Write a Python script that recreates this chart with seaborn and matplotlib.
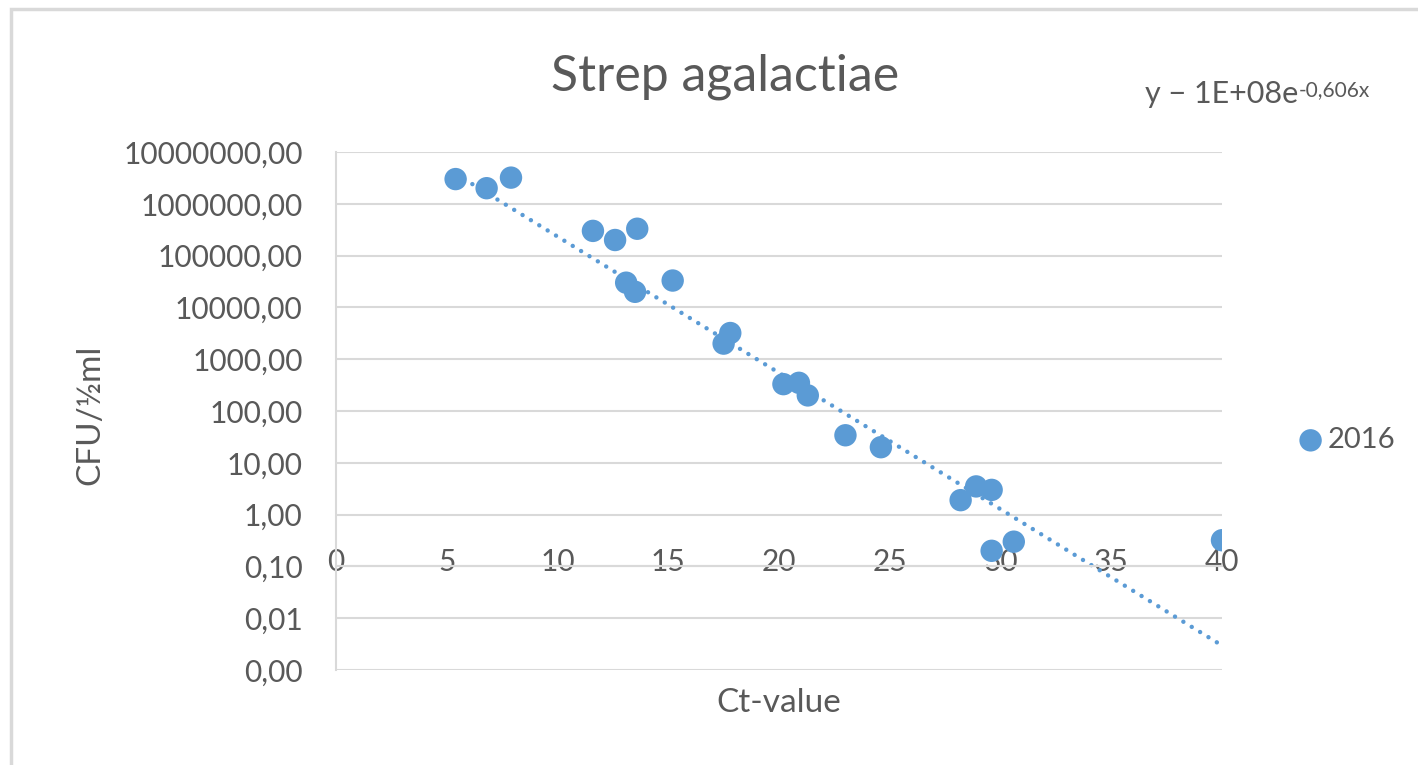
import numpy as np
import matplotlib
matplotlib.use('Agg')
import matplotlib.pyplot as plt
import seaborn as sns
from matplotlib.patches import Rectangle
from matplotlib.ticker import FuncFormatter, NullLocator

# values
ct_value = [5.4, 6.8, 7.9, 11.6, 12.6, 13.6, 13.1, 13.5, 15.2, 17.8, 17.5,
            20.2, 20.9, 21.3, 23.0, 24.6, 28.2, 28.9, 29.6, 29.6, 30.6, 40.0]
cfu = [3.0e6, 2.0e6, 3.2e6, 3.0e5, 2.0e5, 3.3e5, 3.0e4, 2.0e4, 3.3e4, 3.2e3, 2.0e3,
       330, 350, 200, 34, 20, 1.9, 3.5, 3.0, 0.2, 0.3, 0.32]
series = '2016'
trend_a = 1e8
trend_b = -0.606
x_ticks = [0, 5, 10, 15, 20, 25, 30, 35, 40]
y_ticks = [0.001, 0.01, 0.1, 1, 10, 100, 1e3, 1e4, 1e5, 1e6, 1e7]

grey = '#595959'
grid = '#D9D9D9'
blue = '#5B9BD5'

sns.set_theme(style='white')
plt.rcParams['font.family'] = ['Lato', 'DejaVu Sans']

fig = plt.figure(figsize=(14.18, 7.65), dpi=100)
ax = fig.add_axes([336 / 1418, 1 - 670 / 765, (1222 - 336) / 1418, (670 - 152) / 765])

sns.scatterplot(x=ct_value, y=cfu, ax=ax, s=260, color=blue, edgecolor='none',
                label=series, zorder=3)

# exponential trendline from the equation shown on the chart
xs = np.linspace(min(ct_value), max(ct_value), 300)
ax.plot(xs, trend_a * np.exp(trend_b * xs), color=blue, lw=3.2,
        linestyle=(0, (0.01, 2.2)), dash_capstyle='round', zorder=2)

ax.set_yscale('log')
ax.set_xlim(0, 40)
ax.set_ylim(1e-3, 1e7)
ax.set_xticks(x_ticks)
ax.set_yticks(y_ticks)
ax.yaxis.set_minor_locator(NullLocator())
ax.yaxis.set_major_formatter(FuncFormatter(lambda v, p: f'{v:.2f}'.replace('.', ',')))
ax.set_xlabel('')
ax.set_ylabel('')

ax.grid(axis='y', color=grid, lw=1.5)
ax.grid(axis='x', visible=False)
for s in ['top', 'right']:
    ax.spines[s].set_visible(False)
ax.spines['left'].set_color(grid)
ax.spines['left'].set_linewidth(1.5)
ax.spines['bottom'].set_position(('data', 0.1))
ax.spines['bottom'].set_color(grid)
ax.spines['bottom'].set_linewidth(1.5)
ax.tick_params(axis='y', length=0, pad=24, labelsize=21.5, labelcolor=grey)
ax.tick_params(axis='x', length=0, pad=-13, labelsize=21.5, labelcolor=grey)

ax.legend(loc='center left', bbox_to_anchor=(1296 / 1418, 1 - 440 / 765),
          bbox_transform=fig.transFigure, frameon=False, fontsize=21,
          handlelength=1.0, handletextpad=0.1, borderpad=0, labelcolor=grey,
          borderaxespad=0)

fig.text(725 / 1418, 1 - 91 / 765, 'Strep agalactiae', ha='center', va='baseline',
         fontsize=36, color=grey)
fig.text(90 / 1418, 1 - 415 / 765, 'CFU/½ml', rotation=90, ha='center', va='center',
         fontsize=24, color=grey)
fig.text(779 / 1418, 1 - 703 / 765, 'Ct-value', ha='center', va='center',
         fontsize=24, color=grey)

eq = fig.text(1145 / 1418, 1 - 103 / 765, 'y − 1E+08e', ha='left', va='baseline',
              fontsize=22, color=grey)
ax.annotate(f'{trend_b:.3f}x'.replace('.', ','), xy=(1, 1), xycoords=eq,
            ha='left', va='top', fontsize=15, color=grey)

fig.patches.append(Rectangle((11 / 1418, -0.1), 1.2, 1.1 - 9 / 765, transform=fig.transFigure,
                             fill=False, edgecolor=grid, lw=2.5))

fig.savefig('out.png', dpi=100)
